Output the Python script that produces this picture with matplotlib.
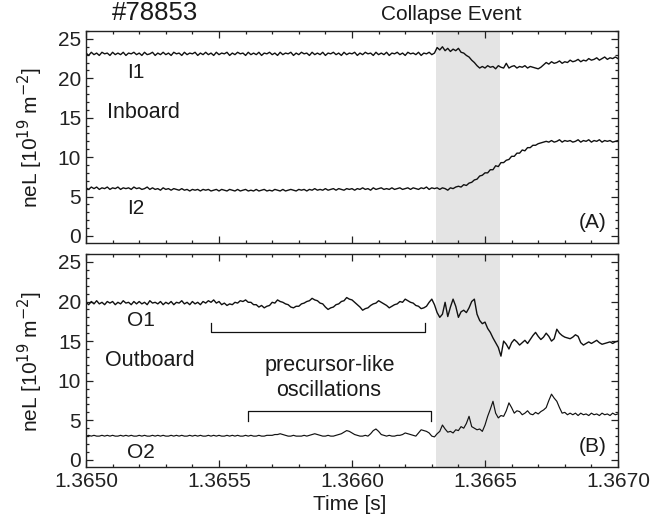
import numpy as np
import matplotlib
matplotlib.use("Agg")
import matplotlib.pyplot as plt
from matplotlib.ticker import MultipleLocator, FormatStrFormatter

plt.rcParams['font.family'] = ['Liberation Sans', 'DejaVu Sans']

# ---------------- data (sampled every 10 microseconds) ----------------
T_START = 1.3650
T_STEP = 1e-5
N_SAMPLES = 201

I1 = [
    23.2, 22.9, 23.3, 23.0, 23.2, 22.9, 23.3, 23.1, 23.2, 22.9,
    23.3, 23.0, 23.2, 23.0, 23.3, 22.9, 23.2, 23.1, 23.3, 23.0,
    23.2, 22.9, 23.3, 23.0, 23.1, 23.3, 22.9, 23.2, 23.0, 23.3,
    23.0, 23.2, 22.9, 23.3, 23.1, 23.2, 22.9, 23.3, 23.0, 23.2,
    23.1, 23.3, 22.9, 23.2, 23.0, 23.3, 23.0, 23.2, 22.9, 23.3,
    23.0, 23.2, 23.1, 23.3, 22.9, 23.2, 23.0, 23.3, 23.1, 23.2,
    22.9, 23.3, 23.0, 23.2, 23.0, 23.3, 22.9, 23.2, 23.1, 23.3,
    23.0, 23.2, 22.9, 23.3, 23.0, 23.2, 23.1, 23.3, 22.9, 23.2,
    23.0, 23.3, 23.1, 23.2, 22.9, 23.3, 23.0, 23.2, 23.0, 23.3,
    22.9, 23.2, 23.1, 23.3, 23.0, 23.2, 22.9, 23.3, 23.0, 23.2,
    23.1, 23.3, 22.9, 23.2, 23.0, 23.3, 23.1, 23.2, 22.9, 23.3,
    23.0, 23.2, 23.0, 23.3, 22.9, 23.2, 23.1, 23.3, 23.0, 23.2,
    22.9, 23.3, 23.1, 23.2, 23.0, 23.3, 22.9, 23.2, 23.1, 23.3,
    23.0, 23.2, 23.9, 23.6, 24.0, 23.5, 23.8, 23.4, 23.7, 23.5,
    23.8, 23.3, 23.2, 22.9, 22.7, 22.3, 22.0, 21.6, 21.3, 21.5,
    21.3, 21.6, 21.4, 21.5, 21.2, 21.6, 21.4, 21.3, 21.9, 21.3,
    21.5, 21.6, 21.3, 21.5, 21.4, 21.6, 21.3, 21.5, 21.4, 21.3,
    21.2, 21.4, 21.7, 22.0, 21.8, 22.1, 21.9, 22.0, 22.2, 21.9,
    22.1, 22.0, 22.3, 22.1, 22.2, 22.4, 22.1, 22.3, 22.2, 22.5,
    22.3, 22.4, 22.6, 22.3, 22.5, 22.7, 22.4, 22.6, 22.5, 22.7,
    22.5,
]

I2 = [
    6.1, 5.9, 6.2, 6.0, 6.2, 5.9, 6.1, 6.0, 6.2, 5.9,
    6.1, 6.0, 6.2, 5.9, 6.1, 6.0, 6.1, 5.9, 6.2, 6.0,
    6.1, 5.9, 6.0, 6.2, 5.9, 6.1, 5.9, 6.0, 5.8, 6.1,
    5.9, 6.0, 5.8, 6.0, 5.9, 5.8, 6.0, 5.8, 5.9, 5.7,
    5.9, 5.8, 5.9, 5.7, 5.9, 5.8, 5.9, 5.7, 5.8, 5.9,
    5.7, 5.9, 5.8, 5.7, 5.9, 5.8, 5.7, 5.9, 5.7, 5.8,
    5.9, 5.7, 5.8, 5.7, 5.9, 5.7, 5.8, 5.9, 5.7, 5.8,
    5.7, 5.9, 5.8, 5.7, 5.9, 5.7, 5.8, 5.9, 5.8, 5.7,
    5.9, 5.8, 5.9, 5.7, 5.9, 5.8, 6.0, 5.8, 5.9, 5.8,
    6.0, 5.8, 5.9, 6.0, 5.8, 6.0, 5.9, 5.8, 6.0, 5.9,
    6.0, 5.8, 6.0, 5.9, 6.1, 5.9, 6.0, 5.8, 6.1, 5.9,
    6.0, 6.1, 5.9, 6.0, 5.9, 6.1, 5.9, 6.0, 6.1, 5.9,
    6.0, 6.1, 5.9, 6.1, 6.0, 5.9, 6.1, 6.0, 6.2, 5.9,
    6.1, 6.0, 6.1, 5.9, 6.1, 6.0, 5.8, 6.1, 6.0, 6.2,
    6.3, 6.2, 6.5, 6.4, 6.7, 6.8, 7.1, 7.2, 7.6, 7.7,
    8.0, 8.0, 8.4, 8.4, 8.9, 8.8, 9.3, 9.3, 9.6, 9.7,
    10.1, 10.1, 10.5, 10.5, 10.9, 10.8, 11.2, 11.2, 11.5, 11.5,
    11.7, 11.8, 11.9, 12.0, 11.9, 12.1, 11.9, 12.0, 12.2, 11.9,
    12.1, 12.0, 12.1, 11.9, 12.0, 12.2, 11.9, 12.1, 12.0, 12.2,
    11.9, 12.1, 12.0, 12.2, 11.9, 12.1, 12.0, 12.1, 11.9, 12.0,
    12.1,
]

O1 = [
    19.9, 19.6, 20.0, 19.7, 20.1, 19.7, 19.9, 19.6, 20.0, 19.8,
    20.0, 19.6, 19.9, 19.7, 20.1, 19.8, 19.9, 19.6, 20.0, 19.7,
    20.0, 19.7, 19.9, 19.6, 20.1, 19.8, 19.9, 19.7, 20.0, 19.6,
    19.9, 19.7, 20.0, 19.6, 19.9, 19.8, 20.1, 19.7, 19.9, 19.6,
    20.0, 19.7, 19.9, 19.6, 20.0, 19.8, 20.1, 19.9, 20.2, 19.8,
    20.0, 19.6, 19.8, 19.5, 19.7, 19.6, 19.9, 19.8, 20.1, 20.0,
    20.2, 19.9, 19.9, 19.6, 19.6, 19.3, 19.5, 19.2, 19.4, 19.5,
    19.9, 19.8, 20.2, 20.0, 19.9, 19.7, 19.6, 19.3, 19.2, 19.4,
    19.4, 19.7, 19.8, 20.0, 20.1, 20.4, 20.2, 20.1, 19.8, 19.7,
    19.3, 19.0, 19.2, 19.3, 19.6, 19.7, 20.0, 20.1, 20.5, 20.3,
    20.2, 19.9, 19.6, 19.3, 18.9, 19.1, 19.2, 19.5, 19.7, 19.8,
    20.1, 19.9, 19.7, 19.5, 19.2, 19.4, 19.6, 19.7, 20.0, 19.9,
    20.3, 20.1, 19.9, 19.8, 19.5, 19.4, 19.1, 19.2, 19.4, 19.9,
    20.3, 19.6, 18.6, 18.0, 18.4, 19.9, 18.1, 19.3, 20.3, 19.4,
    18.0, 18.7, 18.9, 18.6, 19.2, 20.0, 20.3, 18.4, 17.6, 17.2,
    17.4, 16.6, 16.1, 15.4, 14.8, 14.2, 13.1, 15.0, 14.6, 14.0,
    14.8, 15.2, 14.9, 14.5, 14.8, 15.1, 14.7, 15.2, 15.7, 16.1,
    15.6, 15.2, 15.5, 16.0, 15.6, 15.0, 15.3, 16.5, 16.0, 15.7,
    15.5, 15.4, 15.3, 15.5, 15.8, 15.6, 14.8, 14.5, 14.7, 14.9,
    14.7, 14.9, 15.1, 14.8, 14.6, 14.7, 14.8, 14.9, 14.7, 14.9,
    15.0,
]

O2 = [
    3.0, 3.1, 3.0, 3.1, 3.0, 3.0, 3.1, 3.0, 3.1, 3.0,
    3.1, 3.0, 3.0, 3.1, 3.0, 3.1, 3.0, 3.1, 3.0, 3.0,
    3.1, 3.0, 3.1, 3.0, 3.0, 3.1, 3.0, 3.1, 3.0, 3.1,
    3.0, 3.0, 3.1, 3.0, 3.1, 3.0, 3.1, 3.0, 3.0, 3.1,
    3.0, 3.1, 3.0, 3.1, 3.0, 3.0, 3.1, 3.0, 3.1, 3.0,
    3.1, 3.0, 3.0, 3.1, 3.0, 3.1, 3.0, 3.1, 3.0, 3.0,
    3.1, 3.0, 3.1, 3.0, 3.0, 3.1, 3.0, 3.0, 3.1, 3.1,
    3.1, 3.2, 3.2, 3.3, 3.2, 3.1, 3.0, 3.0, 3.1, 3.0,
    3.0, 3.0, 3.1, 3.0, 3.1, 3.2, 3.3, 3.2, 3.1, 3.0,
    3.0, 3.1, 3.0, 3.0, 3.1, 3.2, 3.3, 3.5, 3.7, 3.6,
    3.4, 3.2, 3.1, 3.0, 3.0, 3.1, 3.0, 3.3, 3.7, 3.9,
    3.6, 3.2, 3.1, 3.0, 3.1, 3.0, 3.0, 3.1, 3.1, 3.2,
    3.4, 3.3, 3.2, 3.1, 3.0, 3.4, 3.8, 3.7, 3.6, 3.4,
    3.0, 2.9, 3.3, 3.6, 4.4, 3.9, 3.5, 3.6, 3.4, 3.8,
    3.7, 4.2, 4.0, 4.6, 5.5, 4.2, 4.0, 3.8, 3.9, 3.6,
    4.4, 5.5, 6.4, 7.4, 5.9, 5.3, 5.6, 5.5, 6.2, 7.2,
    6.6, 5.9, 6.2, 6.1, 5.7, 5.9, 6.2, 5.8, 5.7, 6.0,
    5.8, 6.1, 6.3, 6.6, 7.5, 8.3, 7.8, 7.4, 6.6, 5.9,
    6.0, 5.7, 5.9, 5.7, 5.9, 5.6, 5.9, 5.7, 5.8, 5.6,
    5.9, 5.7, 5.8, 5.6, 5.9, 5.7, 5.8, 5.6, 5.9, 5.7,
    5.8,
]

COLLAPSE_START = 1.366316
COLLAPSE_END = 1.366556

X_TICKS = [1.3650, 1.3655, 1.3660, 1.3665, 1.3670]
Y_TICKS = [0, 5, 10, 15, 20, 25]

# precursor brackets (annotation, data coords of panel B)
BRACKET_UPPER = (1.365470, 1.366274, 16.2, 17.3)
BRACKET_LOWER = (1.365609, 1.366297, 6.2, 4.9)

t = T_START + np.arange(N_SAMPLES) * T_STEP

# ---------------- figure ----------------
W, H = 652, 523
fig = plt.figure(figsize=(W / 100, H / 100), dpi=100)

def frac_x(px):
    return px / W

def frac_y(py):
    return 1 - py / H

axA = fig.add_axes([frac_x(86), frac_y(243), 532 / W, 212 / H])
axB = fig.add_axes([frac_x(86), frac_y(467), 532 / W, 213 / H])

line_kw = dict(color='#111111', lw=1.0)
shade = '#e4e4e4'

for ax in (axA, axB):
    ax.axvspan(COLLAPSE_START, COLLAPSE_END, color=shade, lw=0, zorder=0)
    ax.set_xlim(X_TICKS[0], X_TICKS[-1])
    ax.set_ylim(-0.9, 26)
    ax.set_xticks(X_TICKS)
    ax.set_yticks(Y_TICKS)
    ax.xaxis.set_minor_locator(MultipleLocator(0.0001))
    ax.yaxis.set_minor_locator(MultipleLocator(1))
    ax.tick_params(which='both', direction='in', top=True, right=True,
                   labelsize=15, width=0.9, colors='#222222')
    ax.tick_params(which='major', length=5)
    ax.tick_params(which='minor', length=2.5)
    ax.xaxis.set_major_formatter(FormatStrFormatter('%.4f'))
    for s in ax.spines.values():
        s.set_linewidth(1.0)
        s.set_color('#222222')

axA.plot(t, I1, **line_kw)
axA.plot(t, I2, **line_kw)
axA.tick_params(labelbottom=False)

axB.plot(t, O1, **line_kw)
axB.plot(t, O2, color='#111111', lw=0.85)

# brackets
x0, x1, yb, ye = BRACKET_UPPER
axB.plot([x0, x0, x1, x1], [ye, yb, yb, ye], color='#111111', lw=0.9)
x0, x1, yb, ye = BRACKET_LOWER
axB.plot([x0, x0, x1, x1], [ye, yb, yb, ye], color='#111111', lw=0.9)

txt = dict(color='#1a1a1a')
fig.text(frac_x(155), frac_y(13), '#78853', fontsize=18.5, ha='center', va='center', **txt)
fig.text(frac_x(451), frac_y(14), 'Collapse Event', fontsize=15, ha='center', va='center', **txt)

fig.text(frac_x(127), frac_y(72), 'I1', fontsize=15, ha='left', va='center', **txt)
fig.text(frac_x(127), frac_y(208), 'I2', fontsize=15, ha='left', va='center', **txt)
fig.text(frac_x(107), frac_y(113), 'Inboard', fontsize=15.5, ha='left', va='center', **txt)
fig.text(frac_x(606), frac_y(222), '(A)', fontsize=15, ha='right', va='center', **txt)

fig.text(frac_x(127), frac_y(320), 'O1', fontsize=15, ha='left', va='center', **txt)
fig.text(frac_x(127), frac_y(452), 'O2', fontsize=15, ha='left', va='center', **txt)
fig.text(frac_x(105), frac_y(361), 'Outboard', fontsize=15.5, ha='left', va='center', **txt)
fig.text(frac_x(607), frac_y(447), '(B)', fontsize=15, ha='right', va='center', **txt)

fig.text(frac_x(330), frac_y(365), 'precursor-like', fontsize=15.5, ha='center', va='center', **txt)
fig.text(frac_x(329), frac_y(391), 'oscillations', fontsize=15.5, ha='center', va='center', **txt)

fig.text(frac_x(350), frac_y(505), 'Time [s]', fontsize=15, ha='center', va='center', **txt)
ylab = r'neL [10$^{19}$ m$^{-2}$]'
fig.text(frac_x(30), frac_y(138), ylab, fontsize=15, rotation=90, ha='center', va='center', **txt)
fig.text(frac_x(30), frac_y(362), ylab, fontsize=15, rotation=90, ha='center', va='center', **txt)

fig.savefig('out.png', dpi=100)
